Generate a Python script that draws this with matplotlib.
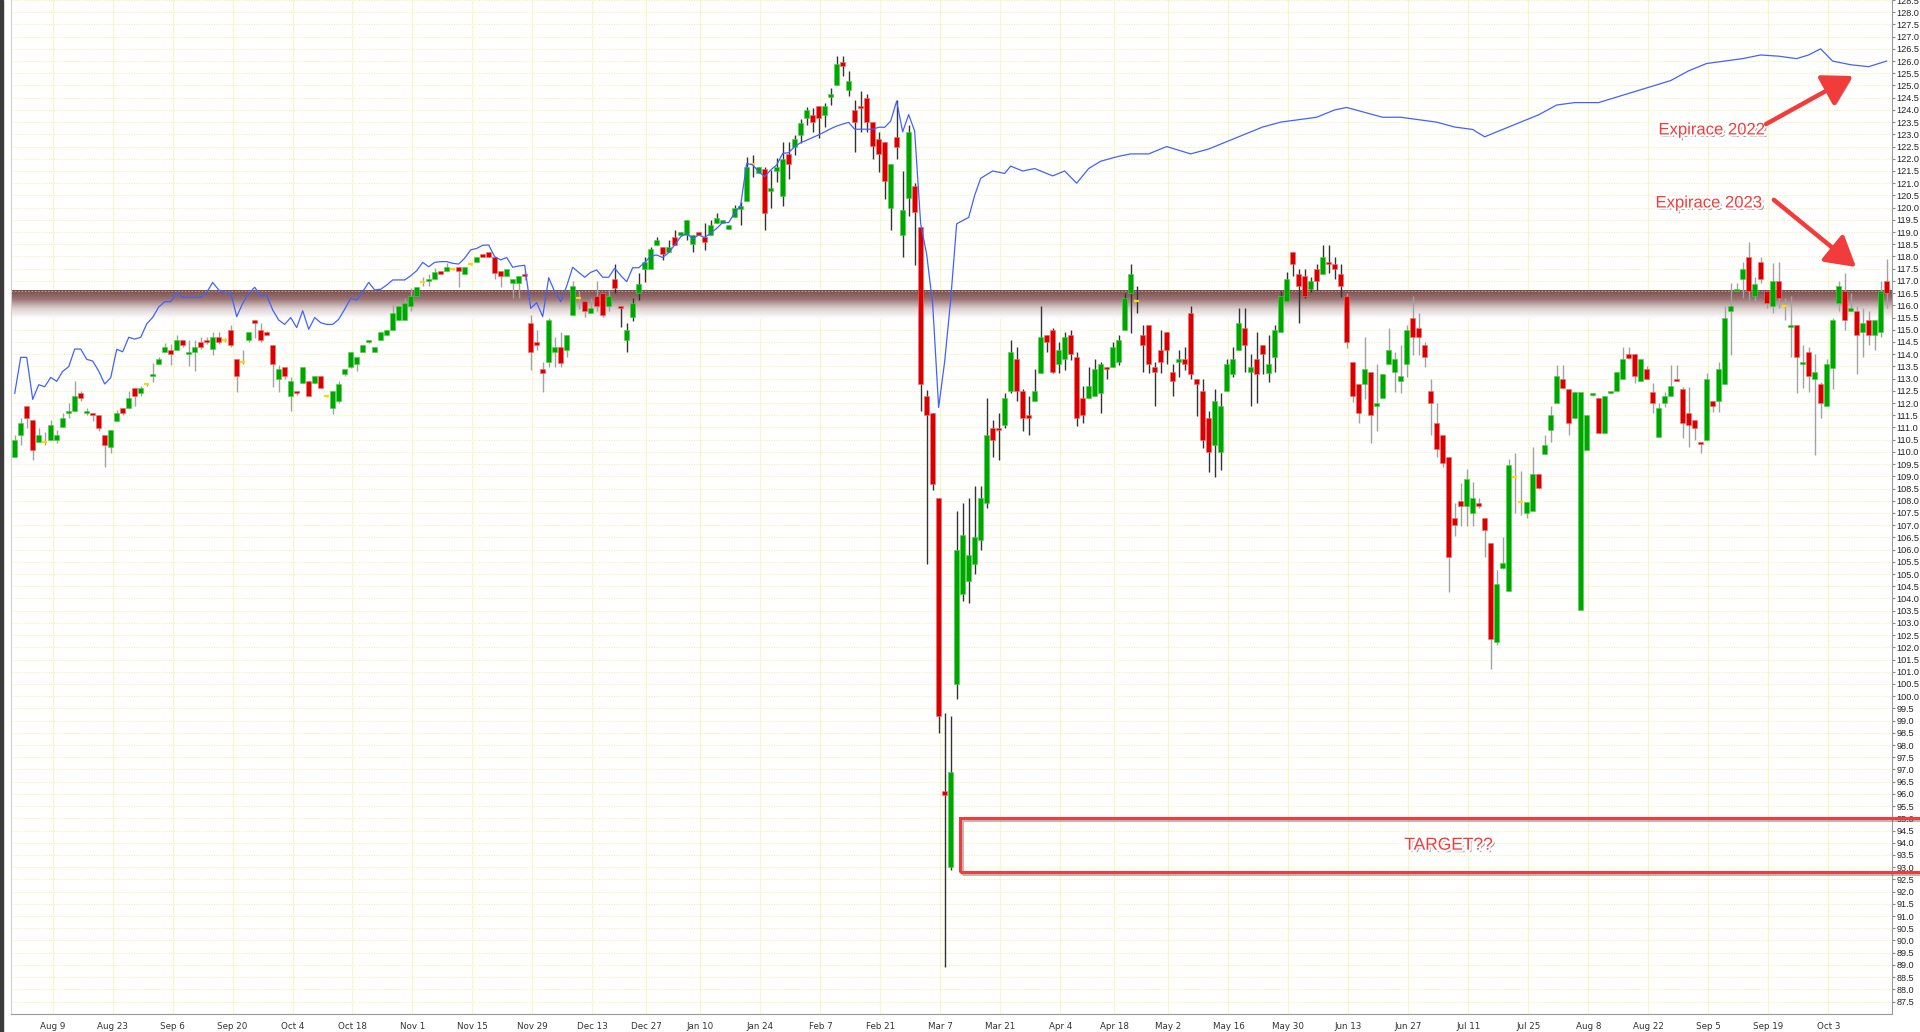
#!/usr/bin/env python3

import numpy as np
import pandas as pd
import matplotlib
matplotlib.use('Agg')
from matplotlib import pyplot as plt
from matplotlib import patheffects as pe
from matplotlib.patches import Rectangle, FancyArrowPatch
from matplotlib.colors import LinearSegmentedColormap

### data
START, END = '2021-07-30', '2022-10-17'
HOLIDAYS = ['2021-12-24', '2021-12-31', '2022-04-15', '2022-04-18']

OPEN = [
    109.8, 110.69, 111.88, 111.31, 110.4, 110.4, 110.49, 110.49, 111.0, 111.6,
    111.68, 112.4, 111.6, 111.6, 111.5, 110.69, 110.19, 111.28, 111.78, 111.78,
    112.6, 112.41, 112.77, 113.1, 113.6, 114.1, 114.17, 114.17, 114.58, 114.0,
    114.1, 114.5, 114.58, 114.2, 114.69, 114.58, 114.99, 113.79, 113.67, 114.58,
    115.4, 114.99, 114.9, 114.38, 113.0, 113.49, 112.3, 112.47, 112.81, 112.9,
    112.81, 113.11, 112.3, 111.81, 112.1, 113.19, 113.49, 113.6, 114.1, 114.5,
    114.1, 114.58, 114.8, 114.99, 115.4, 115.4, 115.97, 116.38, 116.97, 117.0,
    117.09, 117.39, 117.42, 117.48, 117.56, 117.28, 117.69, 117.78, 118.1, 118.17,
    117.97, 117.4, 117.21, 116.9, 116.9, 117.27, 115.26, 114.5, 113.38, 113.7,
    114.1, 114.28, 114.17, 115.6, 116.29, 116.18, 115.7, 116.38, 116.49, 115.99,
    117.08, 115.97, 114.58, 115.51, 116.49, 117.49, 117.49, 118.49, 118.37, 118.17,
    118.78, 118.88, 118.88, 118.5, 119.0, 118.81, 118.88, 119.39, 119.39, 119.11,
    119.6, 119.93, 120.28, 121.77, 121.4, 121.58, 120.7, 121.5, 120.49, 122.2,
    122.5, 122.97, 123.68, 123.81, 124.17, 123.81, 124.51, 125.01, 125.97, 124.83,
    124.0, 124.17, 124.48, 123.49, 122.79, 122.68, 120.0, 122.9, 118.87, 120.41,
    120.89, 119.19, 112.29, 111.59, 108.1, 96.1, 93.01, 100.5, 104.2, 104.7,
    105.4, 106.4, 107.9, 110.97, 110.97, 111.1, 112.5, 113.8, 112.49, 111.51,
    112.1, 113.22, 114.79, 114.99, 113.6, 113.8, 114.79, 113.87, 112.19, 112.19,
    112.3, 112.43, 113.49, 113.49, 113.69, 114.99, 116.52, 116.18, 114.79, 115.19,
    113.46, 114.17, 114.9, 113.26, 113.69, 113.8, 115.7, 112.97, 112.49, 111.4,
    110.28, 109.98, 112.5, 113.19, 114.17, 115.09, 113.29, 113.8, 114.38, 113.22,
    113.9, 114.92, 116.19, 118.17, 117.28, 117.2, 116.68, 117.49, 117.28, 117.78,
    117.69, 117.28, 116.38, 113.69, 112.78, 112.78, 113.29, 111.88, 112.19, 113.6,
    113.29, 112.92, 113.6, 115.5, 115.09, 114.38, 112.49, 111.2, 110.69, 109.8,
    107.28, 107.99, 107.78, 107.5, 107.9, 107.28, 106.29, 102.21, 105.23, 104.31,
    108.99, 107.96, 107.5, 107.6, 109.08, 109.92, 110.9, 112.02, 112.98, 112.56,
    111.4, 103.53, 110.08, 112.33, 112.2, 110.79, 112.4, 112.49, 112.99, 113.99,
    113.99, 112.92, 113.38, 112.47, 110.62, 112.02, 112.29, 112.99, 112.56, 111.61,
    111.31, 110.4, 110.49, 112.09, 112.09, 112.78, 115.77, 116.59, 117.09, 117.97,
    116.38, 117.76, 116.59, 115.97, 116.99, 115.97, 115.1, 115.2, 113.6, 114.08,
    112.99, 112.78, 111.9, 113.42, 116.11, 116.59, 115.77, 115.77, 114.92, 115.4,
    114.79, 114.92, 116.99,
]
HIGH = [
    110.7, 111.4, 111.9, 111.31, 110.97, 110.8, 111.3, 110.9, 111.6, 111.99,
    112.9, 112.5, 111.8, 111.6, 111.5, 110.69, 110.9, 111.7, 111.8, 112.5,
    112.6, 112.7, 112.8, 113.63, 113.9, 114.45, 114.4, 114.8, 114.6, 114.58,
    114.58, 114.7, 114.7, 114.9, 114.9, 114.65, 115.2, 113.79, 114.17, 114.9,
    115.4, 115.27, 114.95, 114.38, 113.56, 113.49, 113.08, 112.5, 113.49, 112.9,
    113.11, 113.11, 112.35, 112.5, 112.9, 113.39, 114.08, 113.9, 114.38, 114.58,
    114.31, 114.9, 114.99, 116.0, 115.97, 116.3, 116.7, 116.76, 117.18, 117.3,
    117.52, 117.39, 117.72, 117.5, 117.56, 117.56, 117.72, 117.97, 118.1, 118.2,
    117.99, 117.4, 117.47, 117.06, 117.2, 117.4, 115.6, 114.99, 113.7, 115.47,
    114.72, 114.92, 114.79, 117.0, 116.6, 116.18, 116.29, 117.0, 116.49, 116.63,
    117.69, 115.97, 115.29, 116.29, 117.31, 117.99, 118.4, 118.81, 118.37, 118.67,
    119.08, 118.99, 119.5, 118.88, 119.0, 119.36, 119.5, 119.8, 119.5, 119.29,
    120.1, 120.24, 122.09, 122.17, 121.66, 121.68, 121.54, 122.02, 122.67, 122.67,
    122.97, 123.61, 124.12, 124.07, 124.17, 124.28, 124.9, 126.2, 126.2, 125.58,
    124.39, 124.79, 124.67, 123.49, 123.1, 122.68, 121.8, 124.39, 121.5, 123.38,
    120.99, 119.19, 112.53, 111.59, 108.1, 99.3, 99.2, 107.6, 107.9, 108.1,
    108.6, 108.6, 112.19, 111.31, 111.6, 112.4, 114.58, 114.28, 112.56, 112.29,
    113.38, 115.97, 114.79, 115.06, 114.51, 114.9, 114.99, 114.08, 112.7, 113.49,
    113.8, 113.69, 113.49, 114.51, 114.79, 116.52, 117.69, 116.79, 115.19, 115.19,
    113.69, 114.99, 114.9, 113.6, 114.17, 114.28, 115.97, 112.97, 112.97, 111.68,
    112.56, 112.4, 113.8, 114.28, 115.88, 115.88, 114.01, 114.9, 114.38, 114.79,
    115.19, 116.6, 117.38, 118.2, 117.49, 117.49, 117.17, 117.69, 118.47, 118.47,
    117.99, 117.69, 116.49, 113.69, 112.78, 114.72, 113.29, 113.6, 113.19, 115.06,
    114.08, 114.38, 115.19, 116.38, 115.7, 114.51, 112.97, 111.99, 110.69, 109.8,
    107.92, 108.71, 109.29, 108.78, 108.1, 107.28, 106.29, 105.17, 106.53, 109.7,
    109.97, 109.2, 107.96, 110.2, 109.1, 110.69, 111.88, 113.56, 113.56, 112.56,
    112.47, 112.47, 111.51, 112.4, 112.2, 112.29, 112.47, 113.26, 114.31, 114.31,
    113.99, 113.82, 113.5, 112.81, 111.99, 112.47, 113.56, 113.56, 112.67, 112.67,
    111.31, 110.4, 113.22, 112.09, 113.69, 115.97, 116.9, 116.9, 117.79, 118.58,
    117.15, 117.97, 116.59, 117.72, 117.76, 116.29, 116.38, 115.2, 114.38, 114.31,
    114.01, 112.88, 113.79, 115.47, 116.99, 117.31, 116.49, 115.97, 115.88, 115.77,
    115.4, 116.99, 117.88,
]
LOW = [
    109.8, 110.28, 110.97, 109.67, 110.4, 110.3, 110.49, 110.38, 111.0, 111.38,
    111.68, 112.1, 111.5, 111.28, 110.87, 109.37, 109.97, 111.28, 111.5, 111.78,
    111.9, 112.3, 112.7, 112.88, 113.6, 114.1, 113.56, 114.17, 114.3, 113.5,
    113.3, 114.2, 114.4, 113.97, 114.4, 114.5, 114.28, 112.47, 113.6, 114.5,
    114.65, 114.5, 114.8, 112.67, 112.47, 113.0, 111.68, 112.35, 112.81, 112.3,
    112.81, 112.6, 112.25, 111.54, 112.0, 113.1, 113.45, 113.3, 114.1, 114.45,
    114.1, 114.58, 114.8, 114.99, 115.4, 115.4, 115.77, 116.38, 116.8, 116.8,
    117.09, 117.3, 117.42, 117.45, 116.76, 117.28, 117.65, 117.78, 117.99, 117.99,
    117.07, 116.76, 117.21, 116.29, 116.29, 117.05, 113.35, 114.17, 112.47, 113.49,
    113.49, 113.49, 113.9, 115.6, 115.85, 115.51, 115.7, 115.78, 115.51, 115.78,
    116.49, 115.1, 114.1, 115.37, 116.22, 116.97, 117.49, 118.49, 117.86, 118.17,
    118.47, 118.88, 118.67, 118.2, 118.88, 118.26, 118.88, 119.39, 119.39, 119.11,
    119.6, 119.29, 120.28, 121.27, 121.4, 119.09, 119.97, 121.06, 120.08, 121.16,
    122.15, 122.63, 123.38, 123.1, 122.87, 123.29, 124.2, 125.01, 125.37, 124.59,
    122.29, 123.1, 123.1, 121.98, 121.46, 120.36, 119.08, 121.98, 117.98, 119.66,
    117.67, 111.67, 105.4, 108.46, 98.5, 88.9, 92.9, 99.9, 103.9, 103.8,
    105.0, 106.0, 107.7, 109.78, 109.67, 110.97, 112.4, 112.08, 110.87, 110.69,
    112.1, 113.22, 114.1, 113.22, 113.22, 113.35, 113.76, 111.08, 111.17, 112.19,
    112.3, 111.58, 113.0, 113.49, 113.56, 114.99, 114.88, 115.7, 113.29, 113.22,
    111.88, 113.22, 113.6, 112.29, 113.08, 113.35, 112.97, 111.47, 110.17, 109.17,
    108.96, 109.26, 112.5, 113.08, 114.17, 113.29, 111.88, 111.99, 113.19, 112.88,
    113.29, 114.92, 116.19, 117.2, 115.29, 116.29, 116.56, 116.63, 117.28, 117.31,
    117.06, 116.36, 114.24, 112.06, 111.17, 112.15, 110.38, 110.87, 112.19, 113.6,
    112.47, 112.4, 113.08, 113.97, 113.97, 113.49, 110.69, 109.78, 109.4, 104.28,
    106.56, 106.97, 106.97, 106.97, 107.7, 105.71, 101.1, 102.1, 105.2, 104.31,
    107.49, 107.4, 107.3, 107.6, 108.51, 109.9, 110.42, 112.02, 112.6, 110.69,
    111.4, 103.53, 110.08, 112.3, 110.79, 110.79, 112.4, 112.49, 112.99, 113.8,
    112.81, 112.92, 112.99, 111.58, 110.62, 111.85, 112.29, 112.9, 110.56, 110.22,
    110.49, 109.97, 110.49, 111.65, 111.65, 112.78, 113.97, 116.59, 116.29, 116.22,
    116.19, 116.9, 115.88, 115.7, 115.88, 115.4, 113.9, 112.4, 112.6, 112.47,
    109.87, 111.38, 111.9, 112.56, 115.77, 114.99, 115.77, 113.19, 113.9, 114.38,
    114.17, 114.69, 115.88,
]
CLOSE = [
    110.49, 111.2, 111.38, 110.08, 110.69, 110.4, 111.09, 110.69, 111.39, 111.68,
    112.3, 112.2, 111.68, 111.5, 110.98, 110.28, 110.88, 111.58, 111.6, 112.2,
    112.3, 112.6, 112.77, 113.19, 113.8, 114.3, 114.0, 114.58, 114.39, 114.08,
    114.3, 114.3, 114.5, 114.69, 114.5, 114.58, 114.39, 113.11, 113.67, 114.9,
    115.29, 114.58, 114.8, 113.6, 113.38, 113.11, 112.9, 112.4, 113.49, 112.3,
    113.11, 112.6, 112.3, 112.5, 112.78, 113.39, 114.08, 113.9, 114.38, 114.58,
    114.31, 114.9, 114.99, 115.67, 115.97, 116.08, 116.38, 116.76, 116.97, 117.06,
    117.38, 117.3, 117.56, 117.48, 117.42, 117.56, 117.69, 117.97, 117.99, 117.99,
    117.31, 117.21, 117.47, 117.06, 117.2, 117.21, 114.1, 114.39, 113.22, 115.4,
    114.28, 113.63, 114.79, 116.79, 116.29, 115.78, 115.9, 115.99, 115.6, 116.38,
    116.7, 115.9, 114.99, 116.08, 116.86, 117.76, 118.31, 118.67, 118.1, 118.37,
    118.47, 118.99, 119.5, 118.88, 118.88, 118.6, 119.29, 119.56, 119.5, 119.29,
    119.97, 120.08, 121.68, 121.77, 121.66, 119.79, 120.79, 121.66, 121.99, 121.79,
    122.8, 123.48, 124.0, 123.5, 123.68, 124.17, 124.67, 125.87, 125.81, 125.17,
    123.49, 124.09, 123.49, 122.51, 122.21, 121.11, 121.8, 122.47, 119.92, 123.1,
    119.81, 112.8, 111.51, 108.69, 99.18, 95.95, 96.9, 105.98, 106.6, 105.8,
    106.5, 108.1, 110.69, 110.49, 110.9, 112.19, 114.1, 112.5, 111.4, 111.4,
    112.49, 114.69, 114.51, 113.29, 114.17, 114.69, 114.01, 111.4, 111.51, 112.7,
    113.39, 113.6, 113.4, 114.28, 114.58, 116.29, 117.28, 116.18, 114.38, 113.6,
    113.29, 113.69, 114.17, 112.92, 113.8, 113.6, 113.19, 112.78, 110.49, 109.98,
    112.08, 111.88, 113.6, 113.8, 115.29, 114.38, 113.49, 113.19, 114.01, 113.6,
    114.99, 116.38, 117.06, 117.69, 116.79, 116.38, 116.99, 117.01, 117.97, 117.69,
    117.49, 116.79, 114.51, 112.29, 111.61, 113.39, 111.51, 111.99, 113.19, 114.17,
    113.8, 113.11, 114.99, 114.72, 114.72, 113.9, 112.02, 110.1, 109.53, 105.71,
    107.01, 107.78, 108.88, 108.1, 107.78, 106.8, 102.33, 104.58, 105.47, 109.46,
    108.99, 107.96, 107.96, 109.08, 108.51, 110.28, 111.51, 113.11, 112.6, 111.2,
    112.47, 112.47, 111.51, 112.4, 110.79, 112.29, 112.47, 113.26, 113.8, 113.83,
    113.11, 113.8, 112.99, 112.02, 111.78, 112.29, 112.7, 112.92, 111.2, 111.1,
    110.99, 110.31, 112.99, 111.88, 113.38, 115.5, 115.97, 116.67, 117.47, 116.59,
    116.86, 117.08, 116.11, 116.99, 116.29, 115.97, 115.2, 113.9, 113.67, 113.12,
    113.26, 112.02, 113.6, 115.4, 116.79, 115.4, 115.88, 114.79, 115.26, 114.79,
    115.4, 116.59, 116.52,
]

# 2022 expiry line: one value per session up to the crash, then sparser readings
EXP22_HEAD = [
    112.4, 113.87, 113.87, 112.15, 112.75, 112.67, 113.05, 112.89, 113.3, 113.49,
    114.21, 114.21, 113.79, 113.72, 113.31, 112.78, 113.04, 114.2, 114.1, 114.69,
    114.62, 114.69, 115.24, 115.51, 115.93, 116.15, 116.15, 116.53, 116.33, 116.33,
    116.33, 116.33, 116.53, 116.94, 116.63, 116.53, 116.53, 115.54, 116.08, 116.49,
    116.74, 116.38, 116.42, 115.81, 115.4, 115.22, 115.5, 115.09, 115.78, 115.02,
    115.5, 115.29, 115.22, 115.22, 115.43, 115.84, 116.29, 116.22, 116.56, 116.94,
    116.63, 116.66, 116.83, 117.04, 117.04, 117.04, 117.21, 117.42, 117.76, 117.58,
    117.76, 117.79, 117.79, 117.72, 117.69, 117.93, 118.27, 118.33, 118.46, 118.47,
    117.99, 117.86, 117.96, 117.56, 117.61, 117.64, 115.88, 116.11, 115.54, 117.13,
    116.56, 116.15, 116.79, 117.56, 117.35, 117.15, 117.35, 117.45, 117.15, 117.15,
    117.52, 117.22, 116.97, 117.54, 117.54, 117.75, 118.02, 118.06, 117.96, 118.16,
    118.47, 118.81, 118.95, 118.72, 118.88, 118.78, 118.95, 119.15, 119.39, 119.39,
    119.79, 120.11, 121.81, 121.75, 121.47, 121.27, 121.54, 121.75, 122.22, 122.25,
    122.5, 122.66, 122.76, 122.87, 122.98, 123.1, 123.23, 123.34, 123.42, 123.49,
    123.21, 123.21, 123.21, 123.21, 123.29, 123.29, 123.54, 124.36, 123.1, 123.81,
    123.13, 119.34, 118.09, 116.05, 111.82, 113.7, 116.21, 119.34,
]
EXP22_TAIL_IDX = [
    159, 160, 161, 163, 165, 166, 168, 170, 173, 175, 177, 179, 181, 184, 186,
    189, 192, 196, 199, 202, 205, 208, 211, 214, 217, 220, 222, 225, 228, 231,
    234, 237, 240, 243, 245, 248, 251, 254, 257, 260, 264, 268, 272, 276, 279,
    282, 285, 288, 291, 294, 297, 299, 301, 303, 306, 309, 312,
]
EXP22_TAIL = [
    119.6, 120.5, 121.2, 121.5, 121.4, 121.7, 121.5, 121.6, 121.3, 121.5, 121.0,
    121.6, 121.9, 122.1, 122.2, 122.2, 122.5, 122.2, 122.4, 122.7, 123.0, 123.3,
    123.5, 123.6, 123.7, 124.0, 124.1, 123.9, 123.7, 123.7, 123.6, 123.5, 123.3,
    123.2, 122.9, 123.2, 123.5, 123.8, 124.2, 124.3, 124.3, 124.6, 124.9, 125.2,
    125.6, 125.9, 126.0, 126.1, 126.25, 126.2, 126.1, 126.25, 126.5, 126.0,
    125.85, 125.77, 126.0,
]

TICK_DATES = [
    '2021-08-09', '2021-08-23', '2021-09-06', '2021-09-20', '2021-10-04',
    '2021-10-18', '2021-11-01', '2021-11-15', '2021-11-29', '2021-12-13',
    '2021-12-27', '2022-01-10', '2022-01-24', '2022-02-07', '2022-02-21',
    '2022-03-07', '2022-03-21', '2022-04-04', '2022-04-18', '2022-05-02',
    '2022-05-16', '2022-05-30', '2022-06-13', '2022-06-27', '2022-07-11',
    '2022-07-25', '2022-08-08', '2022-08-22', '2022-09-05', '2022-09-19',
    '2022-10-03',
]
TICK_LABELS = [
    'Aug 9', 'Aug 23', 'Sep 6', 'Sep 20', 'Oct 4', 'Oct 18', 'Nov 1', 'Nov 15',
    'Nov 29', 'Dec 13', 'Dec 27', 'Jan 10', 'Jan 24', 'Feb 7', 'Feb 21', 'Mar 7',
    'Mar 21', 'Apr 4', 'Apr 18', 'May 2', 'May 16', 'May 30', 'Jun 13', 'Jun 27',
    'Jul 11', 'Jul 25', 'Aug 8', 'Aug 22', 'Sep 5', 'Sep 19', 'Oct 3',
]

BAND = (115.45, 116.6)         # resistance zone
TARGET = (92.8, 95.0)          # target zone
TARGET_FROM = 157.6            # session where the target box starts
Y_RANGE = (86.99, 128.5)

RED = '#f23c3c'


def shadowed(lw):
    """ white halo + soft drop shadow used for the hand-drawn annotations """
    return [pe.SimplePatchShadow(offset=(1.8, -1.8), shadow_rgbFace='#444444', alpha=0.5),
            pe.Stroke(linewidth=lw, foreground='white'), pe.Normal()]


def main():
    W, H = 1920, 1032
    fig = plt.figure(figsize=(W / 100, H / 100), dpi=100)
    ax = fig.add_axes([11 / W, 18 / H, (1892 - 11) / W, 1014 / H])

    dates = pd.bdate_range(START, END)
    dates = dates[~dates.isin(pd.to_datetime(HOLIDAYS))]
    n = len(OPEN)
    x = np.arange(n)
    o, h, l, c = (np.asarray(a, float) for a in (OPEN, HIGH, LOW, CLOSE))
    xlim = (-0.62, 312.9)

    # grid
    for v in np.arange(87.5, 128.51, 0.5):
        ax.axhline(v, color='#f0f08c', lw=0.6, ls=(0, (1.2, 1.8)), zorder=0)
    tick_pos = [dates.searchsorted(pd.Timestamp(d)) + 0.3 for d in TICK_DATES]
    for t in tick_pos:
        ax.axvline(t, color='#f7f7c8', lw=0.8, zorder=0)

    # resistance band, dark top edge fading down to white
    t = np.linspace(0, 1, 120).reshape(-1, 1)
    grad = np.clip(1.0 - t, 0, 1) ** 1.1
    cmap = LinearSegmentedColormap.from_list('band', ['#ffffff', '#dccfcf', '#9a7474', '#7a4c4c'])
    ax.imshow(grad, extent=(xlim[0], xlim[1], BAND[0], BAND[1]), cmap=cmap,
              aspect='auto', origin='upper', vmin=0, vmax=1, zorder=1,
              interpolation='bilinear')
    ax.axhline(BAND[1], color='#b8a080', lw=0.8, ls=(0, (1.5, 1.5)), zorder=1)

    # candles
    up = c > o + 0.01
    dn = c < o - 0.01
    flat = ~(up | dn)
    wick_col = np.where((x >= 100) & (x < 222), '#333333', '#a3a3a3')
    ax.vlines(x, l, h, colors=wick_col, lw=1.0, zorder=3)
    body = np.maximum(np.abs(c - o), 0.08)
    ax.bar(x[up], body[up], bottom=o[up], width=0.84, color='#00a600',
           edgecolor='#4fcf4f', lw=0.4, zorder=4)
    ax.bar(x[dn], body[dn], bottom=c[dn], width=0.84, color='#d80000',
           edgecolor='#f07070', lw=0.4, zorder=4)
    ax.hlines(c[flat], x[flat] - 0.45, x[flat] + 0.45, colors='#ffd800', lw=1.6, zorder=4)

    # 2022 expiry line
    bx = list(range(len(EXP22_HEAD))) + EXP22_TAIL_IDX
    by = EXP22_HEAD + EXP22_TAIL
    ax.plot(bx, by, color='#4162ff', lw=0.9, zorder=5)

    # target zone
    line_shadow = [pe.SimpleLineShadow(offset=(1.5, -1.5), shadow_color='#555555', alpha=0.4),
                   pe.Normal()]
    rect = Rectangle((TARGET_FROM, TARGET[0]), 330 - TARGET_FROM, TARGET[1] - TARGET[0],
                     fill=False, edgecolor=RED, lw=2.2, zorder=6, clip_on=False,
                     path_effects=line_shadow)
    ax.add_patch(rect)
    ax.text(239.0, 93.9, 'TARGET??', color=RED, fontsize=12.5, ha='center', va='center',
            family='Liberation Sans', zorder=7, path_effects=shadowed(3))

    # expiry annotations
    for label, tx, ty, a0, a1 in [('Expirace 2022', 282.9, 123.18, (291.9, 123.42), (306.4, 125.39)),
                                  ('Expirace 2023', 282.4, 120.19, (293.2, 120.32), (306.9, 117.57))]:
        ax.text(tx, ty, label, color=RED, fontsize=12, ha='center', va='center',
                family='Liberation Sans', zorder=7, path_effects=shadowed(3))
        arr = FancyArrowPatch(a0, a1, arrowstyle='-|>,head_length=0.6,head_width=0.35',
                              mutation_scale=30, color=RED, lw=3.2, zorder=7,
                              shrinkA=0, shrinkB=0,
                              path_effects=[pe.SimplePatchShadow(offset=(1.5, -1.5), alpha=0.35),
                                            pe.Normal()])
        ax.add_patch(arr)

    # axes
    ax.set_xlim(*xlim)
    ax.set_ylim(*Y_RANGE)
    ax.set_xticks(tick_pos)
    ax.set_xticklabels(TICK_LABELS)
    ax.yaxis.tick_right()
    yt = np.arange(87.5, 128.51, 0.5)
    ax.set_yticks(yt)
    ax.set_yticklabels([f'{v:.1f}' for v in yt], family='Liberation Sans')
    ax.tick_params(axis='y', labelsize=6.6, length=2, pad=1, color='#888888',
                   labelcolor='#222222')
    ax.tick_params(axis='x', labelsize=6.3, length=0, pad=6, labelcolor='#333333')
    ax.spines['top'].set_visible(False)
    ax.spines['right'].set_color('#9a9a9a')
    ax.spines['bottom'].set_color('#9a9a9a')
    ax.spines['left'].set_color('#d0d0d0')

    # dark strip on the left border of the window
    fig.patches.append(Rectangle((0, 0), 3 / W, 1, transform=fig.transFigure,
                                 color='#3a3a3a', zorder=10))

    fig.savefig('out.png', dpi=100)


if __name__ == '__main__':
    main()
